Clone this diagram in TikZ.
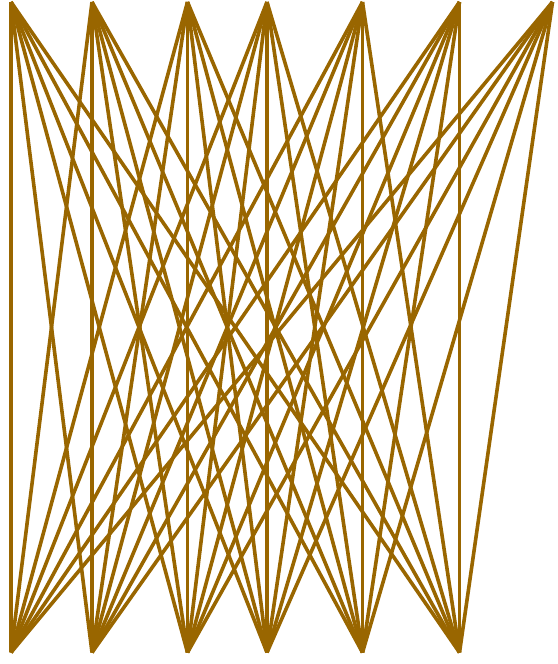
\documentclass[tikz,border=0pt]{standalone}
\begin{document}
\begin{tikzpicture}[x=1pt,y=1pt,edge/.style={draw=edgecol,line width=3.6pt},pt/.style={inner sep=0pt,minimum size=0pt}]
\definecolor{edgecol}{HTML}{996600}
\useasboundingbox (0,0) rectangle (557,664);
\foreach \n/\x in {1/11,2/92,3/187.5,4/267,5/362.5,6/459.5,7/552.5}{\coordinate (t\n) at (\x,662);}
\foreach \n/\x in {1/11,2/92,3/187.5,4/267,5/362.5,6/459.5}{\coordinate (b\n) at (\x,11.5);}
\foreach \i in {1,...,7}{\foreach \j in {1,...,6}{\draw[edge] (t\i) -- (b\j);}}
\end{tikzpicture}
\end{document}
